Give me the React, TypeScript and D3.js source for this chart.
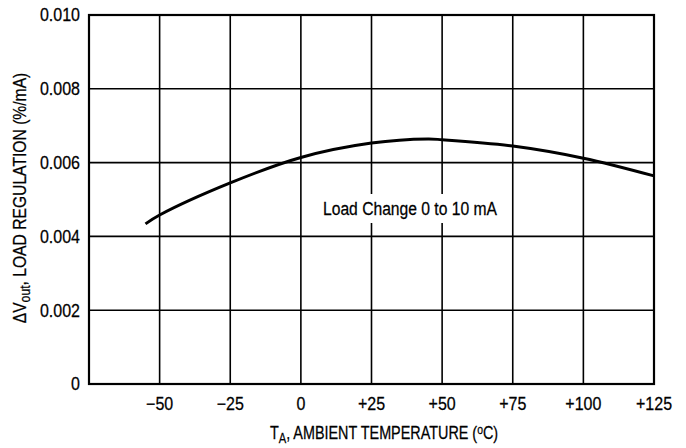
import React from 'react';
import * as d3 from 'd3';

// temperature (C) vs load regulation (%/mA)
const temps = [-55, -50, -25, 0, 25, 45, 50, 75, 100, 125];
const regulation = [0.00434, 0.00458, 0.00545, 0.00614, 0.00653, 0.00664, 0.00662, 0.00645, 0.00612, 0.00564];

const xTicks = [-50, -25, 0, 25, 50, 75, 100, 125];
const xTickLabels = ['\u221250', '\u221225', '0', '+25', '+50', '+75', '+100', '+125'];
const yTicks = [0, 0.002, 0.004, 0.006, 0.008, 0.010];
const yTickLabels = ['0', '0.002', '0.004', '0.006', '0.008', '0.010'];

const W = 686;
const H = 448;
const font = "'Liberation Sans', Arial, sans-serif";

// condensed text: translate to the anchor then squeeze horizontally
function T(props: { x: number; y: number; anchor?: string; rotate?: number; size?: number; sx?: number; dy?: string; children: any }) {
  const { x, y, anchor = 'middle', rotate = 0, size = 18, sx = 0.88, dy, children } = props;
  return (
    <g transform={`translate(${x},${y}) rotate(${rotate}) scale(${sx},1)`}>
      <text x={0} y={0} dy={dy} textAnchor={anchor} fontFamily={font} fontSize={size} fill="#000" stroke="#000" strokeWidth={0.25}>
        {children}
      </text>
    </g>
  );
}

export default function App() {
  const x = d3.scaleLinear().domain([-75, 125]).range([89, 654]);
  const y = d3.scaleLinear().domain([0, 0.010]).range([384, 15]);

  const pts = temps.map((t, i) => [t, regulation[i]] as [number, number]);
  const line = d3.line<[number, number]>()
    .x(d => x(d[0]))
    .y(d => y(d[1]))
    .curve(d3.curveCatmullRom.alpha(0.5));

  const [x0, x1] = x.range();
  const [y0, y1] = y.range();

  return (
    <div style={{ position: 'absolute', left: 0, top: 0 }}>
      <svg width={W} height={H} style={{ display: 'block', background: '#fff' }}>
        {/* grid */}
        {xTicks.filter(t => t < 125).map(t => (
          <line key={'gx' + t} x1={x(t)} x2={x(t)} y1={y1} y2={y0} stroke="#000" strokeWidth={1.6} />
        ))}
        {yTicks.filter(t => t > 0 && t < 0.010).map(t => (
          <line key={'gy' + t} x1={x0} x2={x1} y1={y(t)} y2={y(t)} stroke="#000" strokeWidth={1.6} />
        ))}

        {/* annotation box breaks the grid */}
        <rect x={318} y={194} width={184} height={29} fill="#fff" />
        <T x={410} y={215} sx={0.87}>Load Change 0 to 10 mA</T>

        {/* curve */}
        <path d={line(pts) || ''} fill="none" stroke="#000" strokeWidth={3} />

        {/* frame */}
        <rect x={x0} y={y1} width={x1 - x0} height={y0 - y1} fill="none" stroke="#000" strokeWidth={2.2} />

        {/* y tick labels */}
        {yTicks.map((t, i) => (
          <T key={'yl' + i} x={80} y={y(t)} dy="0.35em" anchor="end" sx={0.89}>{yTickLabels[i]}</T>
        ))}

        {/* x tick labels */}
        {xTicks.map((t, i) => (
          <T key={'xl' + i} x={x(t)} y={410} sx={0.89}>{xTickLabels[i]}</T>
        ))}

        {/* axis titles */}
        <T x={384} y={439} sx={0.8}>
          T<tspan fontSize={14} dy={4}>A</tspan>
          <tspan dy={-4}>, AMBIENT TEMPERATURE (</tspan>
          <tspan fontSize={13} dy={-5}>o</tspan>
          <tspan dy={5}>C)</tspan>
        </T>
        <T x={26} y={198} rotate={-90} sx={0.87}>
          {'\u0394V'}<tspan fontSize={14} dy={4}>out</tspan>
          <tspan dy={-4}>, LOAD REGULATION (%/mA)</tspan>
        </T>
      </svg>
    </div>
  );
}
